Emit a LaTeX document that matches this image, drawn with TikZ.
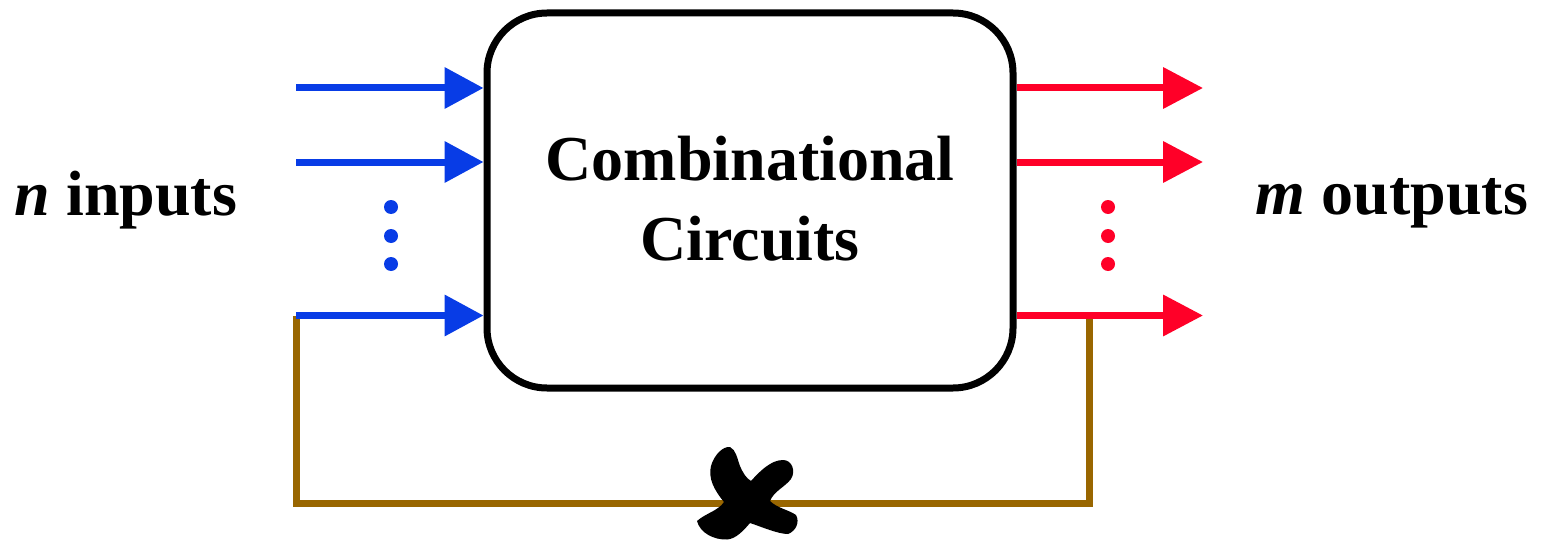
\documentclass[tikz,border=0pt]{standalone}
\usepackage{fontspec}
\setmainfont{Liberation Serif}
\usetikzlibrary{arrows.meta}
\definecolor{inblue}{RGB}{8,60,230}
\definecolor{outred}{RGB}{255,0,40}
\definecolor{loopbrown}{RGB}{153,102,0}
\begin{document}
\begin{tikzpicture}[x=0.5pt,y=-0.5pt,
  wire/.style={line width=3.5pt},
  inarrow/.style={wire,draw=inblue,-{Triangle[length=19.5pt,width=20pt]}},
  outarrow/.style={wire,draw=outred,-{Triangle[length=20pt,width=20pt]}},
  feedback/.style={wire,draw=loopbrown,line join=miter},
  blockbox/.style={draw=black,line width=3.5pt,rounded corners=30pt,
    minimum width=263pt,minimum height=187.5pt,fill=white},
  label/.style={font=\bfseries\fontsize{32}{40}\selectfont,inner sep=0pt},
  vdot/.style={circle,inner sep=0pt,minimum size=7pt},
  forbid/.style={fill=black}]
\useasboundingbox (0,0) rectangle (1541,540);

% feedback path from the outputs back to the inputs
\coordinate (fbA) at (296.5,316);
\coordinate (fbB) at (296.5,503);
\coordinate (fbC) at (1089.5,503);
\coordinate (fbD) at (1089.5,316);
\draw[feedback] (fbA) -- (fbB) -- (fbC) -- (fbD);

% the circuit block
\node[blockbox] (cc) at (750,200.5) {};
\node[label,align=center,anchor=base] (cctext) at (750,260)
  {Combinational\\Circuits};

% input wires
\coordinate (i1) at (296,88);
\coordinate (i2) at (296,162);
\coordinate (i3) at (296,315.5);
\draw[inarrow] (i1) -- (cc.west |- i1);
\draw[inarrow] (i2) -- (cc.west |- i2);
\draw[inarrow] (i3) -- (cc.west |- i3);

% output wires
\coordinate (o1) at (1203,88);
\coordinate (o2) at (1203,162);
\coordinate (o3) at (1203,315.5);
\draw[outarrow] (cc.east |- o1) -- (o1);
\draw[outarrow] (cc.east |- o2) -- (o2);
\draw[outarrow] (cc.east |- o3) -- (o3);

% vertical ellipses
\node[vdot,fill=inblue] (bd1) at (391,207) {};
\node[vdot,fill=inblue] (bd2) at (391,236) {};
\node[vdot,fill=inblue] (bd3) at (391,264) {};
\node[vdot,fill=outred] (rd1) at (1108,207) {};
\node[vdot,fill=outred] (rd2) at (1108,236) {};
\node[vdot,fill=outred] (rd3) at (1108,264) {};

% side labels
\node[label,anchor=base] (inlabel) at (126,215) {\textit{n} inputs};
\node[label,anchor=base] (outlabel) at (1392,214) {\textit{m} outputs};

% brush-stroke cross: the feedback loop is not allowed
\fill[forbid] (724,502)
  .. controls (714,490) and (708,478) .. (711,466)
  .. controls (714,455) and (723,446) .. (730,447)
  .. controls (736,450) and (737,458) .. (740,466)
  .. controls (743,473) and (746,478) .. (751,481)
  .. controls (760,471) and (771,460) .. (783,460)
  .. controls (792,460) and (796,471) .. (791,479)
  .. controls (785,487) and (774,491) .. (770,501)
  .. controls (777,508) and (789,510) .. (796,515)
  .. controls (800,522) and (796,531) .. (788,534)
  .. controls (778,534) and (762,527) .. (750,523)
  .. controls (744,530) and (736,539) .. (727,539.5)
  .. controls (714,540) and (700,533) .. (697,521)
  .. controls (706,513) and (718,511) .. (724,502)
  -- cycle;
\end{tikzpicture}
\end{document}
